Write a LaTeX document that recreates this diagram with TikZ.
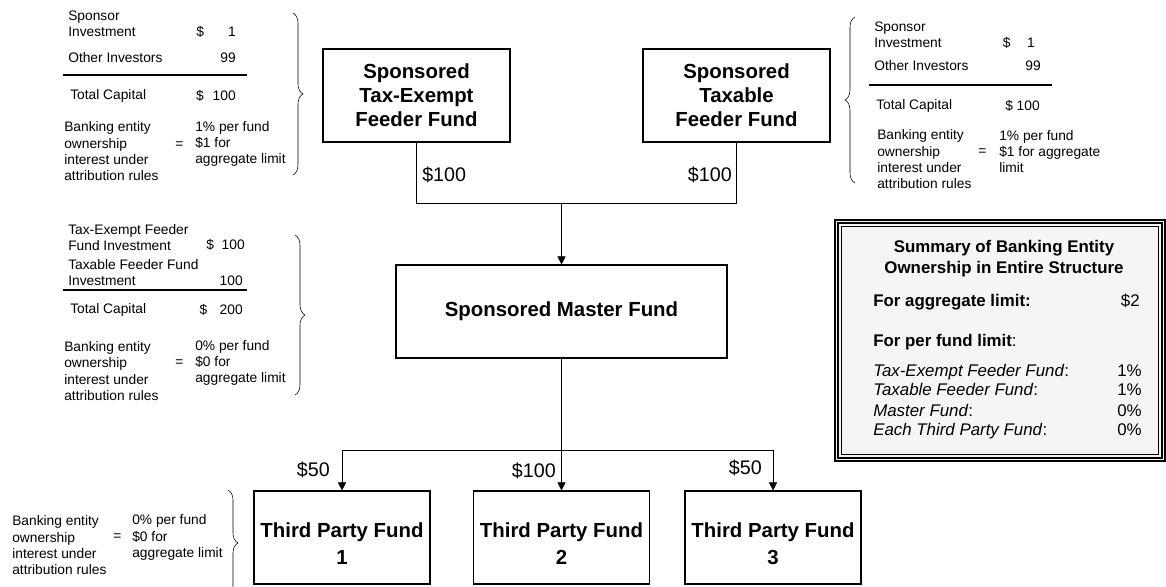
\documentclass[tikz,border=0pt]{standalone}
\usepackage{fontspec}
\setmainfont{Liberation Sans}
\usetikzlibrary{arrows.meta,decorations.pathreplacing}

\begin{document}
\begin{tikzpicture}[x=.25mm, y=-.25mm, >={Triangle[length=2mm, width=2mm]},
		fund/.style={draw, line width=.8pt, minimum height=23.25mm, align=center,
			font=\fontsize{14.5}{17}\selectfont\bfseries},
		note/.style={inner sep=0pt, anchor=west, align=left,
			font=\fontsize{9.8}{11.6}\selectfont},
		amount/.style={inner sep=0pt, font=\fontsize{14}{16}\selectfont},
		summ/.style={inner sep=0pt, anchor=west, text height=.72em, text depth=.2em,
			font=\fontsize{12}{15}\selectfont},
		brace/.style={decorate, decoration={brace, amplitude=2.5mm}}]
		\useasboundingbox (0, 0) rectangle (1166, 586);

		\node[fund, minimum width=46.75mm] (exempt) at (416.5, 95.5) {Sponsored\\Tax-Exempt\\Feeder Fund};
		\node[fund, minimum width=46.75mm] (taxable) at (736.5, 95.5) {Sponsored\\Taxable\\Feeder Fund};
		\node[fund, minimum width=82.75mm] (master) at (561.5, 311.5) {Sponsored Master Fund};
		\foreach \n/\x in {1/342, 2/561.5, 3/773}
			\node[fund, minimum width=44mm, font=\fontsize{14.5}{19}\selectfont\bfseries]
				(third\n) at (\x, 537.5) {\rule{0pt}{6.7mm}Third Party Fund\\\n};

		\coordinate (join) at (561.5, 203);
		\coordinate (split) at (561.5, 450);
		\draw (exempt) -- (exempt |- join) -- (taxable |- join) -- (taxable);
		\draw[->] (join) -- (master);
		\draw (master) -- (split);
		\draw (third1 |- split) -- (third3 |- split);
		\foreach \n in {1, 2, 3}
			\draw[->] (third\n |- split) -- (third\n);

		\node[amount, anchor=west] (exemptamt) at (422, 175) {\$100};
		\node[amount, anchor=east] (taxamt) at (732, 175) {\$100};
		\node[amount, anchor=east] (amt1) at (330, 470) {\$50};
		\node[amount, anchor=east] (amt2) at (556, 471) {\$100};
		\node[amount, anchor=east] (amt3) at (762, 468) {\$50};

		\node[note] (spA) at (68, 23.5) {Sponsor\\Investment};
		\node[note, anchor=east] (spAval) at (236, 32) {\$\hspace{1.75em}1};
		\node[note] (othA) at (68, 58) {Other Investors};
		\node[note, anchor=east] (othAval) at (236, 58) {99};
		\draw[thick] (63, 75) -- (247, 75);
		\node[note] (totA) at (70, 96) {Total Capital};
		\node[note, anchor=east] (totAval) at (236, 96) {\$\hspace{.65em}100};
		\node[note] (bankA) at (64, 151.5) {Banking entity\\ownership\\interest under\\attribution rules};
		\node[note] (eqA) at (175, 145) {=};
		\node[note] (ratA) at (195, 144) {1\% per fund\\\$1 for\\aggregate limit};
		\draw[brace] (293, 13) -- (293, 175);

		\node[note] (spB) at (874, 35) {Sponsor\\Investment};
		\node[note, anchor=east] (spBval) at (1035, 43) {\$\hspace{1.2em}1};
		\node[note] (othB) at (874, 66) {Other Investors};
		\node[note, anchor=east] (othBval) at (1041, 66) {99};
		\draw[thick] (869, 85) -- (1052, 85);
		\node[note] (totB) at (876, 106) {Total Capital};
		\node[note, anchor=east] (totBval) at (1040, 106) {\$ 100};
		\node[note] (bankB) at (877, 159.5) {Banking entity\\ownership\\interest under\\attribution rules};
		\node[note] (eqB) at (978, 152) {=};
		\node[note] (ratB) at (999, 151.5) {1\% per fund\\\$1 for aggregate\\limit};
		\draw[brace] (855, 183) -- (855, 17);

		\node[note] (teC) at (68, 237.5) {Tax-Exempt Feeder\\Fund Investment};
		\node[note, anchor=east] (teCval) at (245, 245) {\$\hspace{.55em}100};
		\node[note] (txC) at (68, 272.5) {Taxable Feeder Fund\\Investment};
		\node[note, anchor=east] (txCval) at (243, 281) {100};
		\draw[thick] (63, 290) -- (247, 290);
		\node[note] (totC) at (70, 310) {Total Capital};
		\node[note, anchor=east] (totCval) at (243, 310) {\$\hspace{.9em}200};
		\node[note] (bankC) at (64, 371) {Banking entity\\ownership\\interest under\\attribution rules};
		\node[note] (eqC) at (175, 363) {=};
		\node[note] (ratC) at (195, 363) {0\% per fund\\\$0 for\\aggregate limit};
		\draw[brace] (295, 235) -- (295, 395);

		\node[note] (bankD) at (12, 545.5) {Banking entity\\ownership\\interest under\\attribution rules};
		\node[note] (eqD) at (113, 537) {=};
		\node[note] (ratD) at (132, 537.5) {0\% per fund\\\$0 for\\aggregate limit};
		\draw[brace] (228, 490) -- (228, 596);

		\node[draw, line width=.8pt, fill=gray!8, minimum width=82.5mm, minimum height=60.25mm]
			(summary) at (1000, 340.5) {};
		\draw[line width=2pt] ([shift={(3.5, 3.5)}]summary.north west) rectangle ([shift={(-3.5, -3.5)}]summary.south east);
		\draw[line width=.8pt] ([shift={(7, 7)}]summary.north west) rectangle ([shift={(-7, -7)}]summary.south east);

		\node[inner sep=0pt, align=center, font=\fontsize{12}{15}\selectfont\bfseries]
			(title) at (1004, 259) {Summary of Banking Entity\\Ownership in Entire Structure};
		\node[summ, font=\fontsize{12}{15}\selectfont\bfseries] (agg) at (873, 303) {For aggregate limit:};
		\node[summ, anchor=east] (aggval) at (1140, 303) {\$2};
		\node[summ] (perfund) at (873, 343) {\textbf{For per fund limit}:};
		\foreach \name/\y/\pct [count=\i] in {Tax-Exempt Feeder Fund/373/1, Taxable Feeder Fund/392/1,
				Master Fund/413/0, Each Third Party Fund/432/0} {
			\node[summ] (item\i) at (873, \y) {\textit{\name}:};
			\node[summ, anchor=east] (pct\i) at (1142, \y) {\pct\%};
		}
	\end{tikzpicture}
\end{document}
